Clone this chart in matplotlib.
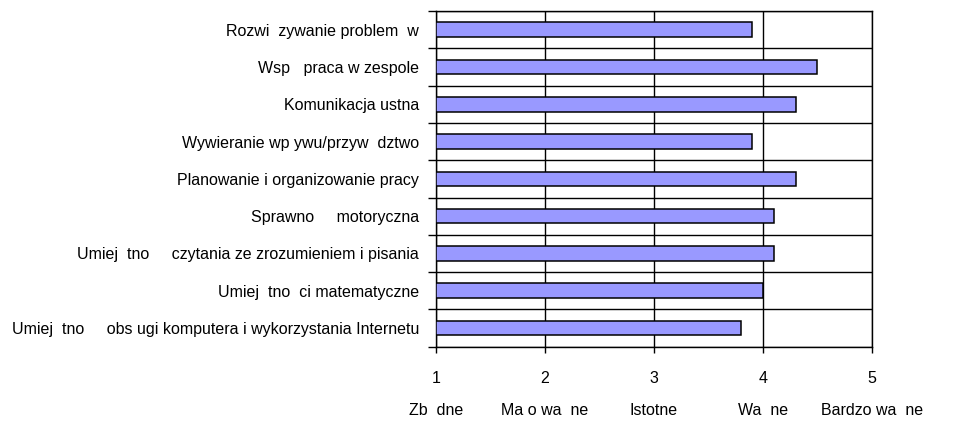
import matplotlib.pyplot as plt
import numpy as np

# Data (labels as they appear in the picture, missing glyphs left as gaps)
categories = ['Rozwi  zywanie problem  w',
              'Wsp   praca w zespole',
              'Komunikacja ustna',
              'Wywieranie wp ywu/przyw  dztwo',
              'Planowanie i organizowanie pracy',
              'Sprawno     motoryczna',
              'Umiej  tno     czytania ze zrozumieniem i pisania',
              'Umiej  tno  ci matematyczne',
              'Umiej  tno     obs ugi komputera i wykorzystania Internetu']
values = [3.9, 4.5, 4.3, 3.9, 4.3, 4.1, 4.1, 4.0, 3.8]
scale_ticks = [1, 2, 3, 4, 5]
scale_names = ['Zb  dne', 'Ma o wa  ne', 'Istotne', 'Wa  ne', 'Bardzo wa  ne']

plt.rcParams['font.family'] = ['Liberation Sans Narrow', 'Liberation Sans', 'DejaVu Sans']
plt.rcParams['font.size'] = 11.5

fig = plt.figure(figsize=(9.58, 4.41), dpi=100)
ax = fig.add_axes([0.4548, 0.2138, 0.4554, 0.7612])

# Bars, first category at the top
pos = np.arange(len(categories))
ax.barh(pos, [v - 1 for v in values], left=1, height=0.39,
        color='#9999FF', edgecolor='black', linewidth=1.1, zorder=3)

ax.set_xlim(1, 5)
ax.set_ylim(len(categories) - 0.5, -0.5)

# Category boundaries: outward ticks and horizontal gridlines
ax.set_yticks(np.arange(-0.5, len(categories), 1.0))
ax.set_yticklabels([])
ax.set_yticks(pos, minor=True)
ax.set_yticklabels(categories, minor=True)
ax.tick_params(axis='y', which='major', direction='out', length=6, width=1.0)
ax.tick_params(axis='y', which='minor', length=0, pad=12)
ax.yaxis.grid(True, which='major', color='black', linewidth=1.0, zorder=1)

# Value axis
ax.set_xticks(scale_ticks)
ax.set_xticklabels([str(t) for t in scale_ticks])
ax.tick_params(axis='x', direction='out', length=4.5, width=1.0, pad=13)
ax.xaxis.grid(True, color='black', linewidth=1.0, zorder=1)

# Words under the numbers
for t, name in zip(scale_ticks, scale_names):
    ax.annotate(name, xy=(t, 0), xycoords=('data', 'axes fraction'),
                xytext=(0, -46), textcoords='offset points',
                ha='center', va='center')

for s in ax.spines.values():
    s.set_linewidth(1.0)
    s.set_color('black')

ax.set_axisbelow(True)

fig.savefig('out.png', dpi=100)
